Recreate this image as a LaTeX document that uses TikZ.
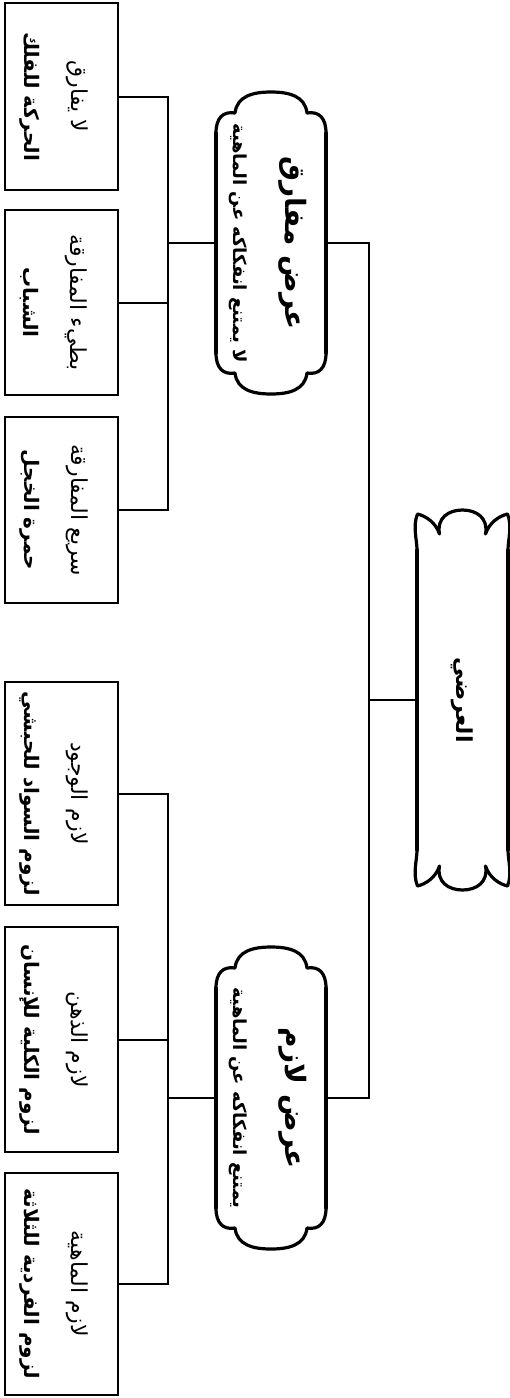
\documentclass[tikz,border=0pt]{standalone}
\usepackage{fontspec}
\usepackage{graphicx}
\newfontfamily\arabicfont[Script=Arabic]{DejaVu Sans}
\TeXXeTstate=1
\newcommand\fsz[1]{\fontsize{#1}{#1}\selectfont}
\newcommand\twolines[4]{\makebox[0pt]{\kern#2\rotatebox{-90}{\vbox{\baselineskip=#1\lineskiplimit=-\maxdimen
  \halign{\hfil##\hfil\cr#3\cr#4\cr}}}}}
\newcommand\leaflabel[2]{\twolines{47pt}{-16pt}{\fsz{22}\mdseries#1}{\fsz{20}\bfseries#2}}
\newcommand\midlabel[2]{\twolines{52pt}{-6pt}{\fsz{28}#1}{\fsz{18}#2}}

\begin{document}
\begin{tikzpicture}[
  x=1pt, y=-1pt,
  boxline/.style={line width=3.2pt, line join=round, line cap=round},
  link/.style={line width=2pt},
  leaf/.style={draw, line width=2.8pt, minimum width=113pt, minimum height=#1,
    inner sep=0pt, outer sep=0pt, font=\arabicfont},
  midbox/.style={minimum width=110pt, inner sep=0pt, outer sep=0pt, font=\arabicfont\bfseries},
  rootbox/.style={minimum width=91pt, inner sep=0pt, outer sep=0pt, font=\arabicfont\bfseries},
  pics/cloudends/.style={code={
    \foreach \s in {1,-1}
      \draw[boxline, yscale=\s] (-55,-110) .. controls (-55,-125) and (-48,-132) .. (-36,-130)
        .. controls (-34,-147) and (-18,-151) .. (0,-151)
        .. controls (18,-151) and (34,-147) .. (36,-130)
        .. controls (48,-132) and (55,-125) .. (55,-110);
    \draw[boxline] (-55,-110) -- (-55,110) (55,-110) -- (55,110);
  }},
  pics/flowerends/.style={code={
    \foreach \s in {1,-1}
      \draw[boxline, yscale=\s] (-45.5,-150) .. controls (-45.5,-160) and (-50,-174) .. (-45,-186)
        .. controls (-37,-184) and (-27,-178) .. (-23,-166)
        .. controls (-26,-182) and (-14,-190) .. (0,-190)
        .. controls (14,-190) and (26,-182) .. (23,-166)
        .. controls (27,-178) and (37,-184) .. (45,-186)
        .. controls (50,-174) and (45.5,-160) .. (45.5,-150);
    \draw[boxline] (-45.5,-150) -- (-45.5,150) (45.5,-150) -- (45.5,150);
  }}
]
\useasboundingbox (0,0) rectangle (510,1398);

\node[rootbox] (root) at (462.5,700) {\makebox[0pt]{\rotatebox{-90}{\fsz{22}\beginR العرضي\endR}}};
\pic at (root) {flowerends};

\node[midbox] (midT) at (271,243) {\midlabel{\beginR عرض مفارق\endR}{\beginR لا يمتنع انفكاكه عن الماهية\endR}};
\pic at (midT) {cloudends};
\node[midbox] (midB) at (271,1098) {\midlabel{\beginR عرض لازم\endR}{\beginR يمتنع انفكاكه عن الماهية\endR}};
\pic at (midB) {cloudends};

\node[leaf=187pt] (leafT1) at (61.5,96.5) {\leaflabel{\beginR لا يفارق\endR}{\beginR الحركة للفلك\endR}};
\node[leaf=185pt] (leafT2) at (61.5,302.5) {\leaflabel{\beginR بطيء المفارقة\endR}{\beginR الشباب\endR}};
\node[leaf=186pt] (leafT3) at (61.5,510) {\leaflabel{\beginR سريع المفارقة\endR}{\beginR حمرة الخجل\endR}};
\node[leaf=223pt] (leafB1) at (61.5,793.5) {\leaflabel{\beginR لازم الوجود\endR}{\beginR لزوم السواد للحبشي\endR}};
\node[leaf=225pt] (leafB2) at (61.5,1039.5) {\leaflabel{\beginR لازم الذهن\endR}{\beginR لزوم الكلية للإنسان\endR}};
\node[leaf=222pt] (leafB3) at (61.5,1284) {\leaflabel{\beginR لازم الماهية\endR}{\beginR لزوم الفردية للثلاثة\endR}};

\draw[link] (root.west) -- ++(-48,0) coordinate (jR);
\draw[link] (jR) |- (midT.east);
\draw[link] (jR) |- (midB.east);
\draw[link] (midT.west) -- ++(-48,0) coordinate (jT);
\draw[link] (midB.west) -- ++(-48,0) coordinate (jB);
\foreach \n in {1,2,3} {
  \draw[link] (jT) |- (leafT\n.east);
  \draw[link] (jB) |- (leafB\n.east);
}
\end{tikzpicture}
\end{document}
